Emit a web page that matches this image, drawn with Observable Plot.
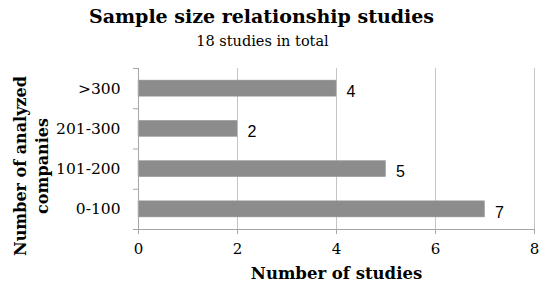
<!DOCTYPE html>
<html>
<head>
<meta charset="utf-8">
<script src="https://cdn.jsdelivr.net/npm/d3@7"></script>
<script src="https://cdn.jsdelivr.net/npm/@observablehq/plot@0.6"></script>
<style>
  html, body { margin: 0; padding: 0; background: #fff; }
  svg { display: block; }
</style>
</head>
<body>
<div id="chart"></div>
<script>
const categories = [">300", "201-300", "101-200", "0-100"];
const studies = [4, 2, 5, 7];
const xTicks = [0, 2, 4, 6, 8];
const title = "Sample size relationship studies";
const subtitle = "18 studies in total";
const xLabel = "Number of studies";
const yLabelLines = ["Number of analyzed", "companies"];

const data = categories.map((c, i) => ({category: c, value: studies[i], i}));
const serif = "DejaVu Serif, Georgia, serif";
const gray = "#a6a6a6";

const chart = Plot.plot({
  width: 542,
  height: 287,
  marginLeft: 138,
  marginRight: 8,
  marginTop: 68,
  marginBottom: 58,
  style: {fontFamily: serif, background: "#fff", color: "#000"},
  x: {domain: [0, 8]},
  y: {domain: [0, categories.length], reverse: true},
  marks: [
    Plot.ruleX(xTicks.slice(1), {stroke: "#c4c4c4", strokeWidth: 1}),
    Plot.rectX(data, {x1: 0, x2: "value", y1: d => d.i + 0.3, y2: d => d.i + 0.7, fill: "#8c8c8c", stroke: "#9a9a9a", strokeWidth: 0.5}),
    Plot.ruleX([0], {stroke: gray}),
    Plot.ruleY([categories.length], {stroke: gray}),
    Plot.axisX({ticks: xTicks, tickSize: 5, tickPadding: 9, stroke: gray, fill: "#000", fontSize: 15, fontFamily: serif, label: null}),
    Plot.axisY({ticks: d3.range(categories.length + 1), tickSize: 5, text: null, stroke: gray, label: null}),
    Plot.axisY({ticks: categories.map((c, i) => i + 0.5), tickFormat: (v) => categories[Math.floor(v)], tickSize: 0, tickPadding: 18, fontSize: 15.5, fontFamily: serif, fill: "#000", label: null}),
    Plot.text(data, {x: "value", y: d => d.i + 0.5, text: d => String(d.value), textAnchor: "start", dx: 10, dy: 3, fontSize: 16, fontFamily: "Liberation Sans, Arial, sans-serif", fill: "#000"}),
    Plot.text([title], {frameAnchor: "top-left", dx: 123, dy: -46, lineAnchor: "bottom", textAnchor: "middle", fontSize: 19, fontWeight: "bold", fontFamily: serif, fill: "#000"}),
    Plot.text([subtitle], {frameAnchor: "top-left", dx: 124, dy: -23, lineAnchor: "bottom", textAnchor: "middle", fontSize: 14.5, fontFamily: serif, fill: "#000"}),
    Plot.text([xLabel], {frameAnchor: "bottom", dy: 49, lineAnchor: "bottom", fontSize: 16.5, fontWeight: "bold", fontFamily: serif, fill: "#000"}),
    Plot.text([yLabelLines[0]], {frameAnchor: "left", dx: -118, dy: 17, rotate: -90, textAnchor: "middle", fontSize: 16, fontWeight: "bold", fontFamily: serif, fill: "#000"}),
    Plot.text([yLabelLines[1]], {frameAnchor: "left", dx: -96, dy: 17, rotate: -90, textAnchor: "middle", fontSize: 16, fontWeight: "bold", fontFamily: serif, fill: "#000"})
  ]
});
document.getElementById("chart").appendChild(chart);
</script>
</body>
</html>
